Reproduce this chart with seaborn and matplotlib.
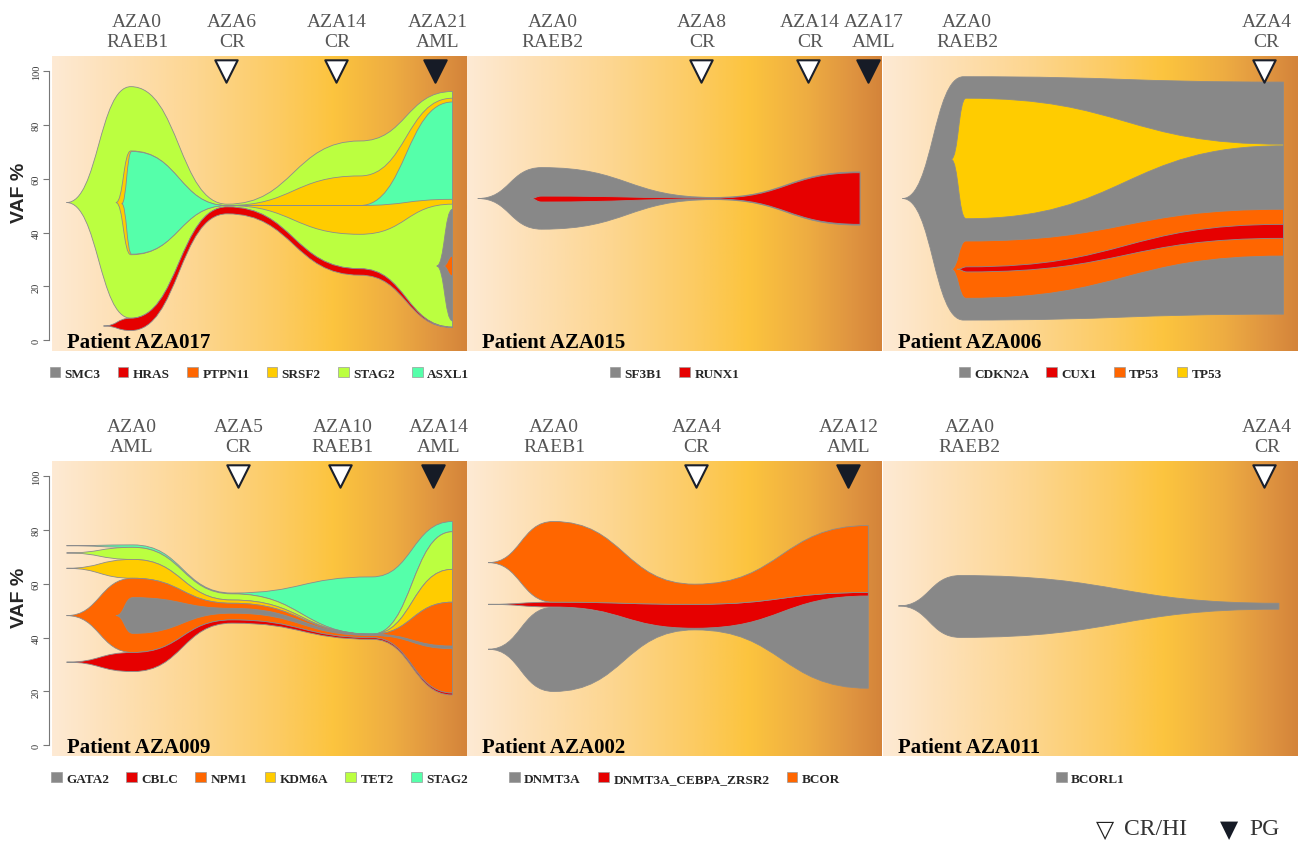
import numpy as np
import matplotlib
matplotlib.use("Agg")
import matplotlib.pyplot as plt
import seaborn as sns
from matplotlib.path import Path
from matplotlib.patches import PathPatch, Patch
from matplotlib.colors import LinearSegmentedColormap
from matplotlib.transforms import blended_transform_factory

# clone colours
GRAY, RED, ORANGE, YELLOW, LIME, TURQ = "#888888", "#E60000", "#FF6600", "#FFCC00", "#BBFF40", "#55FFAA"

# ---- Patient AZA017 ----
p017_genes = ["SMC3", "HRAS", "PTPN11", "SRSF2", "STAG2", "ASXL1"]
p017_colors = [GRAY, RED, ORANGE, YELLOW, LIME, TURQ]
p017_times = ["AZA0\nRAEB1", "AZA6\nCR", "AZA14\nCR", "AZA21\nAML"]
p017_time_x = [20.5, 43.4, 68.7, 93.0]
p017_mark_x = [41.9, 68.4, 92.3]
p017_mark_kind = ["CR", "CR", "PG"]
# (legend index, x, lower VAF, upper VAF) in drawing order
p017_clones = [
    (4, [3.5, 19.0, 42.2, 74.2, 96.5], [51.2, 8.2, 49.6, 26.6, 4.9], [51.2, 94.3, 50.6, 74.1, 92.5]),
    (1, [12.4, 19.0, 42.2, 74.2, 96.5], [5.3, 3.6, 47.0, 24.2, 4.7], [5.3, 8.2, 49.6, 26.6, 4.9]),
    (3, [15.4, 19.0, 42.2, 74.2, 96.5], [51.2, 31.8, 50.1, 39.4, 50.6], [51.2, 70.4, 50.1, 61.1, 90.0]),
    (5, [16.8, 19.2, 42.2, 74.2, 96.5], [50.8, 32.0, 50.1, 50.1, 52.4], [50.8, 70.2, 50.1, 50.1, 88.6]),
    (0, [92.7, 96.5], [27.6, 7.2], [27.6, 48.7]),
    (2, [94.3, 96.5], [27.6, 23.9], [27.6, 31.3]),
]

# ---- Patient AZA015 ----
p015_genes = ["SF3B1", "RUNX1"]
p015_colors = [GRAY, RED]
p015_times = ["AZA0\nRAEB2", "AZA8\nCR", "AZA14\nCR", "AZA17\nAML"]
p015_time_x = [20.6, 56.7, 82.6, 97.9]
p015_mark_x = [56.4, 82.2, 96.7]
p015_mark_kind = ["CR", "CR", "PG"]
p015_clones = [
    (0, [2.6, 18.0, 59.5, 94.7], [52.7, 41.3, 52.3, 42.8], [52.7, 64.2, 53.1, 62.6]),
    (1, [15.2, 18.0, 59.5, 94.7], [52.7, 51.4, 52.5, 43.1], [52.7, 53.6, 52.9, 62.3]),
]

# ---- Patient AZA006 ----
p006_genes = ["CDKN2A", "CUX1", "TP53", "TP53"]
p006_colors = [GRAY, RED, ORANGE, YELLOW]
p006_times = ["AZA0\nRAEB2", "AZA4\nCR"]
p006_time_x = [20.3, 92.4]
p006_mark_x = [91.8]
p006_mark_kind = ["CR"]
p006_clones = [
    (0, [4.7, 19.4, 96.5], [52.7, 7.5, 9.7], [52.7, 98.0, 96.0]),
    (3, [16.4, 20.0, 96.5], [67.3, 45.2, 72.3], [67.3, 90.0, 72.9]),
    (2, [16.4, 20.0, 96.5], [26.4, 15.6, 31.3], [26.4, 36.9, 48.7]),
    (1, [17.8, 20.3, 96.5], [26.4, 25.4, 37.9], [26.4, 27.3, 43.1]),
]

# ---- Patient AZA009 ----
p009_genes = ["GATA2", "CBLC", "NPM1", "KDM6A", "TET2", "STAG2"]
p009_colors = [GRAY, RED, ORANGE, YELLOW, LIME, TURQ]
p009_times = ["AZA0\nAML", "AZA5\nCR", "AZA10\nRAEB1", "AZA14\nAML"]
p009_time_x = [19.2, 44.9, 70.0, 93.1]
p009_mark_x = [44.7, 69.4, 91.7]
p009_mark_kind = ["CR", "CR", "PG"]
p009_x = [3.5, 19.5, 43.4, 77.1, 96.5]
p009_clones = [
    (5, p009_x, [74.2, 73.6, 56.3, 41.3, 79.4], [74.2, 74.5, 56.6, 62.6, 83.2]),
    (4, p009_x, [71.5, 69.1, 54.0, 41.3, 65.4], [71.5, 73.6, 56.3, 41.3, 79.4]),
    (3, p009_x, [65.8, 62.1, 52.8, 41.3, 53.2], [65.8, 69.1, 54.0, 41.3, 65.4]),
    (2, p009_x, [48.2, 34.5, 46.6, 40.0, 19.4], [48.2, 62.1, 52.8, 41.3, 53.2]),
    (0, [15.4, 19.5, 43.4, 77.1, 96.5], [48.2, 41.6, 49.1, 40.8, 35.9], [48.2, 54.9, 50.9, 41.3, 36.9]),
    (1, p009_x, [30.9, 27.4, 45.4, 39.4, 18.7], [30.9, 34.5, 46.6, 40.0, 19.4]),
]

# ---- Patient AZA002 ----
p002_genes = ["DNMT3A", "DNMT3A_CEBPA_ZRSR2", "BCOR"]
p002_colors = [GRAY, RED, ORANGE]
p002_times = ["AZA0\nRAEB1", "AZA4\nCR", "AZA12\nAML"]
p002_time_x = [21.0, 55.3, 91.9]
p002_mark_x = [55.1, 91.9]
p002_mark_kind = ["CR", "PG"]
p002_x = [5.1, 20.8, 54.9, 96.7]
p002_clones = [
    (0, p002_x, [35.7, 20.0, 42.9, 21.2], [35.7, 51.3, 43.5, 55.5]),
    (1, p002_x, [52.4, 51.4, 43.5, 55.5], [52.4, 53.2, 52.4, 56.8]),
    (2, p002_x, [67.9, 53.2, 52.4, 56.8], [67.9, 83.2, 59.9, 81.7]),
]

# ---- Patient AZA011 ----
p011_genes = ["BCORL1"]
p011_colors = [GRAY]
p011_times = ["AZA0\nRAEB2", "AZA4\nCR"]
p011_time_x = [20.8, 92.6]
p011_mark_x = [91.8]
p011_mark_kind = ["CR"]
p011_clones = [
    (0, [3.7, 18.6, 95.4], [51.8, 40.1, 50.6], [51.8, 63.1, 52.8]),
]

panels = [
    ("Patient AZA017", p017_genes, p017_colors, p017_times, p017_time_x, p017_mark_x, p017_mark_kind, p017_clones),
    ("Patient AZA015", p015_genes, p015_colors, p015_times, p015_time_x, p015_mark_x, p015_mark_kind, p015_clones),
    ("Patient AZA006", p006_genes, p006_colors, p006_times, p006_time_x, p006_mark_x, p006_mark_kind, p006_clones),
    ("Patient AZA009", p009_genes, p009_colors, p009_times, p009_time_x, p009_mark_x, p009_mark_kind, p009_clones),
    ("Patient AZA002", p002_genes, p002_colors, p002_times, p002_time_x, p002_mark_x, p002_mark_kind, p002_clones),
    ("Patient AZA011", p011_genes, p011_colors, p011_times, p011_time_x, p011_mark_x, p011_mark_kind, p011_clones),
]


def fish_path(x, lo, hi):
    # smooth band through the timepoints, flat tangents at every timepoint
    verts = [(x[0], hi[0])]
    codes = [Path.MOVETO]
    for i in range(len(x) - 1):
        m = (x[i] + x[i + 1]) / 2
        verts += [(m, hi[i]), (m, hi[i + 1]), (x[i + 1], hi[i + 1])]
        codes += [Path.CURVE4] * 3
    verts.append((x[-1], lo[-1]))
    codes.append(Path.LINETO)
    for i in range(len(x) - 1, 0, -1):
        m = (x[i] + x[i - 1]) / 2
        verts += [(m, lo[i]), (m, lo[i - 1]), (x[i - 1], lo[i - 1])]
        codes += [Path.CURVE4] * 3
    verts.append((x[0], hi[0]))
    codes.append(Path.CLOSEPOLY)
    return Path(verts, codes)


sns.set_theme(style="white")
plt.rcParams["font.family"] = ["Liberation Serif", "DejaVu Sans"]

bg = LinearSegmentedColormap.from_list("bg", [
    (0.00, "#FEEAD4"), (0.12, "#FDE2BC"), (0.35, "#FDD690"), (0.55, "#FCCB62"),
    (0.68, "#FCC43E"), (0.82, "#EEAD42"), (0.93, "#DF9440"), (1.00, "#D4843A")])
grad = np.linspace(0, 1, 256).reshape(1, -1)

W, H = 1303, 845
fig = plt.figure(figsize=(W / 100, H / 100), dpi=100)
lefts = [52, 467, 883]
tops = [57, 462]
YLIM = (-4, 105.7)

for k, (title, genes, colors, times, time_x, mark_x, mark_kind, clones) in enumerate(panels):
    row, col = divmod(k, 3)
    ax = fig.add_axes([lefts[col] / W, 1 - (tops[row] + 295) / H, 415 / W, 295 / H])
    ax.imshow(grad, extent=(0, 100, YLIM[0], YLIM[1]), aspect="auto", cmap=bg, zorder=0)
    for idx, x, lo, hi in clones:
        ax.add_patch(PathPatch(fish_path(x, lo, hi), facecolor=colors[idx],
                               edgecolor="#8C8C8C", lw=0.6, zorder=2))

    cr = [xx for xx, kk in zip(mark_x, mark_kind) if kk == "CR"]
    pg = [xx for xx, kk in zip(mark_x, mark_kind) if kk == "PG"]
    if cr:
        sns.scatterplot(x=cr, y=[100.3] * len(cr), marker="v", s=260, color="white",
                        edgecolor="#1a1f2b", linewidth=1.5, ax=ax, zorder=4, legend=False)
    if pg:
        sns.scatterplot(x=pg, y=[100.3] * len(pg), marker="v", s=260, color="#161b26",
                        edgecolor="#161b26", linewidth=1.5, ax=ax, zorder=4, legend=False)

    tr = blended_transform_factory(ax.transData, ax.transAxes)
    for lab, xx in zip(times, time_x):
        ax.text(xx, 1.083, lab, transform=tr, ha="center", va="center",
                fontsize=14, color="#555555", linespacing=1.28)

    ax.text(0.035, 0.014, title, transform=ax.transAxes, ha="left", va="baseline",
            fontsize=15, fontweight="bold", color="black", zorder=5)

    ax.set_xlim(0, 100)
    ax.set_ylim(*YLIM)
    ax.set_xticks([])
    for s in ["top", "right", "bottom"]:
        ax.spines[s].set_visible(False)
    if col == 0:
        ax.spines["left"].set_bounds(0, 100)
        ax.spines["left"].set_position(("outward", 2))
        ax.spines["left"].set_color("#777777")
        ax.spines["left"].set_linewidth(0.8)
        ax.set_yticks([0, 20, 40, 60, 80, 100])
        ax.set_yticklabels(["0", "20", "40", "60", "80", "100"], rotation=90,
                           va="center", fontsize=7.5, color="#333333")
        ax.tick_params(axis="y", left=True, length=4, width=0.8, color="#777777", pad=2)
        fig.text(19.5 / W, 1 - (tops[row] + 136) / H, "VAF %", rotation=90,
                 ha="center", va="center", fontsize=14, fontweight="bold",
                 family="Liberation Sans")
    else:
        ax.spines["left"].set_visible(False)
        ax.set_yticks([])

    handles = [Patch(facecolor=c, edgecolor="#9a9a9a", lw=0.5, label=g) for g, c in zip(genes, colors)]
    ax.legend(handles=handles, loc="upper center", bbox_to_anchor=(0.5, -0.015),
              ncol=len(genes), frameon=False, prop={"weight": "bold", "size": 9.5},
              handlelength=0.8, handleheight=0.8, handletextpad=0.35, columnspacing=1.3)

# marker key, bottom right
ky = 1 - 830 / H
fig.text(1096 / W, ky, "▽", fontsize=17, family="DejaVu Sans", color="#222222", va="center")
fig.text(1124 / W, ky, "CR/HI", fontsize=17, color="#333333", va="center")
fig.text(1220 / W, ky, "▼", fontsize=17, family="DejaVu Sans", color="#161b26", va="center")
fig.text(1249 / W, ky, "PG", fontsize=17, color="#333333", va="center")

fig.savefig("out.png", dpi=100)
